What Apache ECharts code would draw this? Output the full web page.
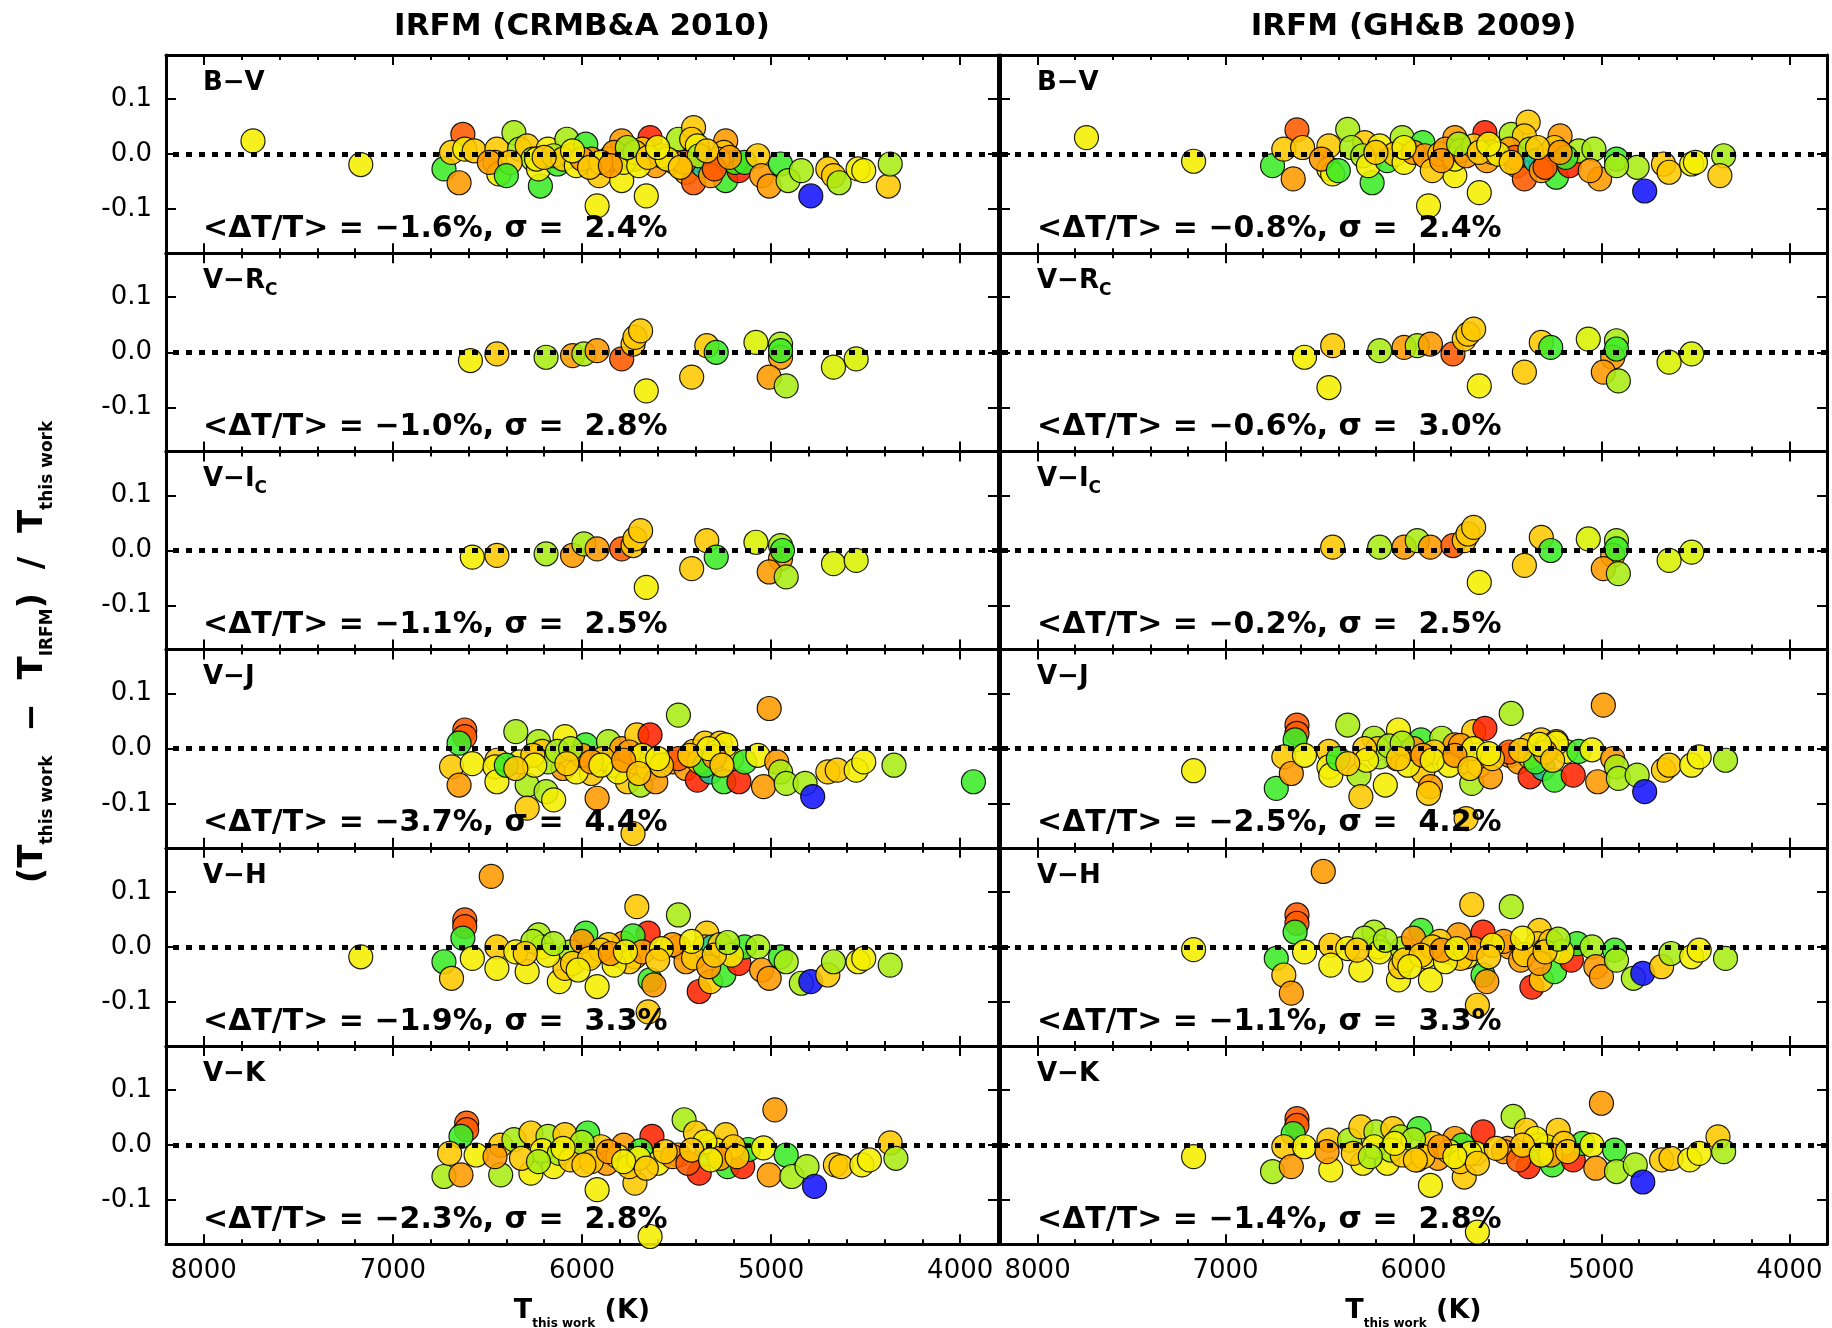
<!DOCTYPE html>
<html>
<head>
<meta charset="utf-8">
<script src="https://cdn.jsdelivr.net/npm/echarts@6/dist/echarts.min.js"></script>
<style>
html, body { margin: 0; padding: 0; background: #fff; }
#chart { width: 1832px; height: 1328px; }
</style>
</head>
<body>
<div id="chart"></div>
<script>
// each point: [T this work (K), (T this work - T IRFM) / T this work, colour class]
var bvCrmba = [[7740,0.024,'Y'],[7170,-0.019,'Y'],[6630,0.036,'R'],[6730,-0.027,'G'],[6650,-0.052,'O'],[6690,0.003,'A'],[6620,0.009,'Y'],[6570,0.006,'A'],[6450,0.009,'A'],[6460,-0.015,'Y'],[6440,-0.036,'Y'],[6490,-0.015,'O'],[6360,0.039,'L'],[6330,0.009,'L'],[6290,0.015,'A'],[6260,-0.009,'L'],[6220,-0.058,'G'],[6230,-0.027,'Y'],[6180,0.009,'Y'],[6130,-0.018,'G'],[6080,0.027,'L'],[6060,-0.003,'A'],[5980,0.018,'G'],[5950,-0.009,'O'],[5920,-0.094,'Y'],[5910,-0.039,'A'],[5860,-0.009,'A'],[5790,0.024,'O'],[5790,-0.048,'Y'],[5750,-0.003,'A'],[5720,-0.009,'O'],[5660,-0.076,'Y'],[5640,0.030,'D'],[5610,-0.021,'O'],[5680,0.009,'A'],[5490,0.027,'L'],[5410,0.048,'A'],[5420,0.027,'A'],[5390,0.015,'Y'],[5510,-0.015,'O'],[5450,-0.033,'A'],[5410,-0.052,'R'],[5360,-0.021,'C'],[5320,-0.015,'C'],[5240,0.024,'O'],[5250,0.003,'A'],[5240,-0.048,'G'],[5170,-0.030,'D'],[5190,-0.015,'G'],[5140,-0.015,'G'],[5070,-0.003,'A'],[5050,-0.039,'O'],[5010,-0.058,'O'],[4950,-0.018,'G'],[4910,-0.048,'L'],[4840,-0.030,'L'],[4790,-0.076,'B'],[4700,-0.027,'A'],[4670,-0.039,'A'],[4640,-0.052,'L'],[4540,-0.027,'Y'],[4510,-0.030,'Y'],[4380,-0.058,'A'],[4370,-0.018,'L'],[6380,-0.015,'A'],[6240,-0.009,'Y'],[6150,-0.003,'L'],[6100,-0.009,'A'],[6030,-0.021,'Y'],[6000,-0.009,'O'],[5830,0.003,'O'],[5780,-0.015,'Y'],[5720,0.003,'A'],[5580,-0.003,'O'],[5460,-0.015,'R'],[5380,-0.003,'L'],[5280,-0.009,'A'],[5320,-0.039,'O'],[6400,-0.039,'G'],[5900,-0.015,'Y'],[5960,-0.024,'A'],[5700,-0.021,'Y'],[5300,-0.027,'R'],[6200,-0.006,'A'],[6050,0.006,'Y'],[5850,-0.021,'O'],[5760,0.012,'L'],[5650,-0.006,'A'],[5550,-0.009,'Y'],[5340,0.006,'A'],[5220,-0.006,'O'],[5480,-0.024,'A'],[5600,0.012,'Y']];
var bvGhb = [[7740,0.030,'Y'],[7170,-0.013,'Y'],[6620,0.044,'R'],[6750,-0.021,'G'],[6640,-0.045,'O'],[6690,0.009,'A'],[6590,0.012,'A'],[6450,0.015,'A'],[6450,-0.027,'Y'],[6430,-0.036,'Y'],[6350,0.045,'L'],[6220,-0.052,'G'],[6260,0.021,'A'],[6180,0.015,'Y'],[6060,0.030,'L'],[5950,0.021,'G'],[5920,-0.094,'Y'],[5780,0.030,'O'],[5650,-0.070,'Y'],[5620,0.039,'D'],[5780,-0.039,'Y'],[5480,0.036,'L'],[5390,0.058,'A'],[5410,0.033,'A'],[5490,0.009,'O'],[5450,-0.021,'O'],[5410,-0.045,'R'],[5320,-0.018,'C'],[5220,0.033,'O'],[5240,-0.042,'G'],[5170,-0.021,'D'],[5120,0.006,'L'],[5040,0.009,'L'],[5010,-0.045,'O'],[4920,-0.009,'G'],[4810,-0.024,'L'],[4770,-0.067,'B'],[4920,-0.021,'L'],[4670,-0.018,'A'],[4640,-0.033,'A'],[4520,-0.018,'Y'],[4500,-0.015,'Y'],[4350,-0.003,'L'],[4370,-0.039,'A'],[6490,-0.009,'O'],[6330,0.012,'L'],[6270,-0.003,'L'],[6240,-0.021,'Y'],[6140,-0.012,'G'],[6100,0.000,'A'],[6050,-0.015,'Y'],[6000,0.003,'O'],[5940,-0.003,'O'],[5900,-0.030,'A'],[5860,0.000,'A'],[5830,0.009,'O'],[5780,-0.009,'Y'],[5750,0.006,'A'],[5720,-0.003,'O'],[5680,0.015,'A'],[5610,-0.012,'O'],[5580,0.003,'O'],[5460,-0.006,'R'],[5380,0.009,'L'],[5350,-0.012,'C'],[5280,0.000,'A'],[5250,0.012,'A'],[5190,-0.006,'G'],[5320,-0.030,'O'],[6400,-0.030,'G'],[5300,-0.024,'R'],[5060,-0.030,'O'],[6200,0.003,'A'],[6050,0.012,'Y'],[5850,-0.012,'O'],[5760,0.018,'L'],[5650,0.003,'A'],[5550,0.000,'Y'],[5340,0.012,'A'],[5220,0.003,'O'],[5480,-0.015,'A'],[5600,0.018,'Y']];
var vrCrmba = [[6590,-0.015,'Y'],[6450,-0.003,'A'],[6190,-0.009,'L'],[6050,-0.006,'O'],[5990,-0.003,'L'],[5920,0.003,'O'],[5790,-0.012,'R'],[5730,0.015,'A'],[5720,0.027,'A'],[5690,0.039,'A'],[5660,-0.070,'Y'],[5420,-0.045,'A'],[5340,0.012,'A'],[5290,0.000,'G'],[5080,0.018,'K'],[4950,0.015,'L'],[4950,-0.009,'O'],[5010,-0.045,'O'],[4920,-0.061,'L'],[4950,0.003,'G'],[4670,-0.027,'K'],[4550,-0.012,'K']];
var vrGhb = [[6580,-0.009,'Y'],[6430,0.012,'A'],[6450,-0.064,'Y'],[6180,0.003,'L'],[6050,0.009,'O'],[5980,0.012,'L'],[5910,0.015,'O'],[5790,-0.003,'R'],[5730,0.024,'A'],[5710,0.033,'A'],[5680,0.042,'A'],[5650,-0.061,'Y'],[5410,-0.036,'A'],[5320,0.018,'A'],[5270,0.009,'G'],[5070,0.024,'K'],[4920,0.021,'L'],[4940,-0.009,'O'],[4990,-0.036,'O'],[4910,-0.052,'L'],[4920,0.006,'G'],[4640,-0.018,'K'],[4520,-0.003,'K']];
var viCrmba = [[6580,-0.012,'Y'],[6450,-0.009,'A'],[6190,-0.006,'L'],[6050,-0.009,'O'],[5990,0.012,'L'],[5920,0.003,'O'],[5790,0.003,'R'],[5730,0.009,'A'],[5720,0.021,'A'],[5690,0.036,'A'],[5660,-0.067,'Y'],[5420,-0.033,'A'],[5340,0.018,'A'],[5290,-0.012,'G'],[5080,0.015,'K'],[4950,0.009,'L'],[4950,-0.015,'O'],[5010,-0.039,'O'],[4920,-0.048,'L'],[4940,0.000,'G'],[4670,-0.024,'K'],[4550,-0.018,'K']];
var viGhb = [[6430,0.006,'A'],[6180,0.006,'L'],[6050,0.006,'O'],[5980,0.018,'L'],[5910,0.006,'O'],[5790,0.009,'R'],[5730,0.018,'A'],[5710,0.030,'A'],[5680,0.042,'A'],[5650,-0.058,'Y'],[5410,-0.027,'A'],[5320,0.024,'A'],[5270,0.000,'G'],[5070,0.021,'K'],[4920,0.018,'L'],[4940,-0.009,'O'],[4990,-0.033,'O'],[4910,-0.042,'L'],[4920,0.003,'G'],[4640,-0.018,'K'],[4520,-0.003,'K']];
var vjCrmba = [[6620,0.034,'R'],[6620,0.022,'R'],[6650,0.010,'G'],[6690,-0.033,'A'],[6650,-0.066,'O'],[6580,-0.027,'Y'],[6450,-0.021,'A'],[6460,-0.033,'Y'],[6450,-0.060,'Y'],[6350,0.031,'L'],[6330,-0.024,'Y'],[6290,-0.066,'L'],[6290,-0.108,'A'],[6230,0.013,'L'],[6210,-0.005,'A'],[6190,-0.078,'L'],[6150,-0.093,'Y'],[6090,0.022,'Y'],[6100,-0.036,'O'],[6050,-0.018,'Y'],[5980,0.007,'G'],[5950,-0.045,'A'],[5920,-0.090,'O'],[5860,0.013,'L'],[5830,-0.030,'Y'],[5790,0.000,'O'],[5760,-0.060,'A'],[5730,-0.154,'A'],[5710,0.025,'A'],[5640,0.025,'D'],[5720,-0.024,'A'],[5690,-0.066,'L'],[5650,-0.036,'Y'],[5610,-0.060,'O'],[5490,0.061,'L'],[5520,-0.024,'O'],[5450,-0.036,'O'],[5390,-0.057,'D'],[5410,-0.005,'A'],[5350,0.010,'A'],[5320,-0.042,'C'],[5270,0.010,'A'],[5250,-0.060,'G'],[5210,-0.018,'Y'],[5170,-0.060,'D'],[5140,-0.024,'G'],[5070,-0.012,'Y'],[5010,0.073,'O'],[4970,-0.024,'O'],[4950,-0.042,'L'],[5040,-0.069,'O'],[4920,-0.063,'L'],[4820,-0.063,'L'],[4780,-0.087,'B'],[4700,-0.042,'A'],[4650,-0.039,'A'],[4550,-0.039,'Y'],[4510,-0.024,'Y'],[4350,-0.030,'L'],[3930,-0.060,'G'],[6180,-0.024,'L'],[6130,-0.005,'L'],[6030,-0.042,'Y'],[6000,-0.012,'O'],[5890,-0.018,'A'],[5810,-0.042,'Y'],[5750,-0.006,'O'],[5490,-0.018,'R'],[5380,-0.024,'A'],[5290,-0.006,'A'],[5240,0.007,'Y'],[6400,-0.030,'G'],[5350,-0.030,'G'],[6260,-0.012,'A'],[6060,0.000,'L'],[5950,-0.024,'O'],[5680,-0.012,'Y'],[5580,-0.030,'A'],[5300,-0.015,'O'],[6250,-0.030,'Y'],[6080,-0.027,'A'],[5900,-0.030,'Y'],[5780,-0.021,'O'],[5700,-0.045,'A'],[5600,-0.018,'Y'],[5430,-0.012,'A'],[5330,0.000,'Y'],[5260,-0.030,'A'],[6350,-0.036,'A']];
var vjGhb = [[7170,-0.040,'Y'],[6620,0.043,'R'],[6620,0.028,'R'],[6630,0.016,'G'],[6690,-0.015,'A'],[6730,-0.072,'G'],[6650,-0.045,'O'],[6580,-0.012,'Y'],[6450,-0.005,'A'],[6450,-0.033,'Y'],[6440,-0.048,'Y'],[6350,0.043,'L'],[6290,-0.048,'L'],[6280,-0.087,'A'],[6210,0.019,'L'],[6190,0.000,'A'],[6150,-0.066,'Y'],[6080,0.034,'Y'],[6090,-0.018,'O'],[5960,0.016,'G'],[5950,-0.042,'A'],[5910,-0.069,'O'],[5920,-0.081,'A'],[5850,0.019,'L'],[5780,0.007,'O'],[5680,0.031,'A'],[5620,0.037,'D'],[5720,-0.024,'A'],[5690,-0.063,'L'],[5650,-0.030,'Y'],[5590,-0.051,'O'],[5720,-0.127,'A'],[5480,0.064,'L'],[5490,-0.012,'O'],[5440,-0.024,'O'],[5380,-0.051,'D'],[5380,0.007,'A'],[5320,0.016,'A'],[5310,-0.036,'C'],[5240,0.013,'A'],[5250,-0.057,'G'],[5190,-0.005,'Y'],[5150,-0.048,'D'],[5120,-0.005,'G'],[5050,-0.002,'Y'],[4990,0.079,'O'],[4940,-0.018,'O'],[4920,-0.033,'L'],[5020,-0.060,'O'],[4910,-0.054,'L'],[4810,-0.048,'L'],[4770,-0.078,'B'],[4670,-0.039,'A'],[4640,-0.030,'A'],[4520,-0.030,'Y'],[4480,-0.015,'Y'],[4340,-0.021,'L'],[6180,-0.015,'L'],[6130,0.005,'L'],[6030,-0.030,'Y'],[6000,0.000,'O'],[5890,-0.006,'A'],[5810,-0.030,'Y'],[5750,0.006,'O'],[5490,-0.006,'R'],[5380,-0.015,'A'],[5290,0.004,'A'],[5240,0.010,'Y'],[6400,-0.018,'G'],[5350,-0.024,'G'],[6260,0.000,'A'],[6060,0.010,'L'],[5950,-0.012,'O'],[5680,0.000,'Y'],[5580,-0.018,'A'],[5300,-0.006,'O'],[6250,-0.021,'Y'],[6080,-0.018,'A'],[5900,-0.021,'Y'],[5780,-0.012,'O'],[5700,-0.036,'A'],[5600,-0.009,'Y'],[5430,-0.003,'A'],[5330,0.008,'Y'],[5260,-0.021,'A'],[6350,-0.027,'A']];
var vhCrmba = [[6480,0.128,'O'],[7170,-0.018,'Y'],[6620,0.049,'R'],[6620,0.037,'R'],[6630,0.016,'G'],[6730,-0.027,'G'],[6690,-0.057,'A'],[6580,-0.021,'Y'],[6450,0.000,'A'],[6450,-0.039,'Y'],[6290,-0.045,'Y'],[6230,0.022,'L'],[6210,0.000,'Y'],[6120,-0.063,'Y'],[6090,-0.039,'A'],[5980,0.025,'G'],[5950,-0.015,'Y'],[5920,-0.072,'Y'],[5780,0.007,'O'],[5710,0.073,'A'],[5650,0.025,'D'],[5730,0.020,'G'],[5720,-0.018,'Y'],[5640,-0.060,'G'],[5620,-0.069,'O'],[5650,-0.118,'A'],[5490,0.058,'L'],[5490,0.000,'O'],[5450,-0.027,'O'],[5380,-0.081,'D'],[5340,0.025,'A'],[5350,0.000,'A'],[5310,0.000,'C'],[5320,-0.063,'A'],[5250,-0.051,'G'],[5170,-0.030,'D'],[5140,0.000,'G'],[5070,0.000,'L'],[5050,-0.042,'O'],[5010,-0.057,'O'],[4950,-0.018,'G'],[4920,-0.027,'L'],[4840,-0.066,'L'],[4790,-0.063,'B'],[4700,-0.051,'A'],[4670,-0.027,'L'],[4540,-0.027,'Y'],[4510,-0.021,'Y'],[4370,-0.033,'L'],[6350,-0.009,'Y'],[6260,0.010,'L'],[6180,-0.015,'Y'],[6060,-0.009,'L'],[6000,0.010,'O'],[5860,0.004,'A'],[5810,-0.015,'Y'],[5750,-0.027,'A'],[5830,-0.033,'Y'],[5410,-0.020,'A'],[5270,0.004,'A'],[5210,-0.015,'Y'],[5520,0.004,'O'],[6050,-0.030,'A'],[5900,-0.006,'A'],[5680,-0.009,'O'],[5580,-0.003,'Y'],[5330,-0.036,'O'],[6300,-0.012,'A'],[6150,0.006,'L'],[5960,-0.021,'A'],[5850,-0.012,'O'],[5770,-0.009,'Y'],[5600,-0.024,'A'],[5420,0.010,'Y'],[5300,-0.015,'A'],[5230,0.008,'L'],[6020,-0.042,'Y']];
var vhGhb = [[6480,0.137,'O'],[7170,-0.005,'Y'],[6620,0.058,'R'],[6620,0.043,'R'],[6630,0.027,'G'],[6730,-0.021,'G'],[6690,-0.051,'A'],[6650,-0.084,'O'],[6580,-0.009,'Y'],[6440,0.003,'A'],[6440,-0.033,'Y'],[6280,-0.042,'Y'],[6210,0.027,'L'],[6190,0.000,'Y'],[6080,-0.060,'Y'],[6070,-0.036,'A'],[5960,0.030,'G'],[5940,-0.018,'Y'],[5910,-0.060,'Y'],[5760,0.022,'O'],[5690,0.077,'A'],[5630,0.027,'D'],[5720,-0.018,'Y'],[5630,-0.051,'G'],[5610,-0.063,'O'],[5660,-0.106,'A'],[5480,0.073,'L'],[5490,0.000,'O'],[5430,-0.024,'O'],[5370,-0.073,'D'],[5330,0.030,'A'],[5340,0.006,'A'],[5300,-0.006,'C'],[5320,-0.060,'A'],[5250,-0.045,'G'],[5160,-0.024,'D'],[5130,0.006,'G'],[5050,0.000,'L'],[5030,-0.036,'O'],[5000,-0.054,'O'],[4930,-0.006,'G'],[4920,-0.024,'L'],[4830,-0.057,'L'],[4780,-0.048,'B'],[4680,-0.036,'A'],[4630,-0.012,'L'],[4520,-0.018,'Y'],[4480,-0.006,'Y'],[4340,-0.021,'L'],[6350,-0.003,'Y'],[6260,0.016,'L'],[6180,-0.009,'Y'],[6060,-0.003,'L'],[6000,0.016,'O'],[5860,0.010,'A'],[5810,-0.009,'Y'],[5750,-0.021,'A'],[5830,-0.027,'Y'],[5410,-0.014,'A'],[5270,0.010,'A'],[5210,-0.009,'Y'],[5520,0.010,'O'],[6050,-0.024,'A'],[5900,0.000,'A'],[5680,-0.003,'O'],[5580,0.003,'Y'],[5330,-0.030,'O'],[6300,-0.006,'A'],[6150,0.012,'L'],[5960,-0.015,'A'],[5850,-0.006,'O'],[5770,-0.003,'Y'],[5600,-0.018,'A'],[5420,0.016,'Y'],[5300,-0.009,'A'],[5230,0.014,'L'],[6020,-0.036,'Y']];
var vkCrmba = [[6610,0.040,'R'],[6610,0.028,'R'],[6640,0.016,'G'],[6730,-0.057,'L'],[6700,-0.015,'A'],[6640,-0.054,'O'],[6560,-0.018,'Y'],[6430,0.000,'A'],[6430,-0.054,'L'],[6360,0.010,'L'],[6270,0.022,'A'],[6270,-0.051,'Y'],[6180,0.016,'L'],[6150,-0.039,'Y'],[6090,0.019,'A'],[5970,0.022,'G'],[6000,-0.015,'O'],[5920,-0.081,'Y'],[5840,-0.015,'Y'],[5780,0.000,'O'],[5720,-0.069,'A'],[5640,-0.166,'Y'],[5630,0.016,'D'],[5690,-0.010,'G'],[5600,-0.033,'Y'],[5460,0.046,'L'],[5490,-0.018,'O'],[5400,0.022,'A'],[5380,-0.051,'D'],[5320,0.000,'A'],[5340,-0.015,'C'],[5240,0.019,'A'],[5230,-0.039,'G'],[5150,-0.039,'D'],[5120,-0.008,'G'],[5040,-0.005,'Y'],[4980,0.064,'O'],[5010,-0.054,'O'],[4920,-0.018,'G'],[4890,-0.057,'L'],[4810,-0.039,'L'],[4770,-0.075,'B'],[4660,-0.036,'A'],[4630,-0.039,'A'],[4520,-0.036,'Y'],[4480,-0.027,'Y'],[4370,0.004,'A'],[4340,-0.024,'L'],[6460,-0.021,'O'],[6210,-0.010,'Y'],[6120,-0.015,'L'],[6060,-0.027,'A'],[5900,-0.003,'A'],[5870,-0.033,'O'],[5810,-0.021,'Y'],[5750,-0.039,'A'],[5520,-0.021,'O'],[5440,-0.033,'R'],[5290,-0.009,'Y'],[5200,-0.003,'A'],[6000,0.005,'L'],[5950,-0.030,'A'],[5700,-0.024,'Y'],[5560,-0.012,'A'],[5350,0.006,'Y'],[5270,-0.024,'O'],[6320,-0.024,'A'],[6230,-0.030,'L'],[6100,-0.006,'Y'],[5990,-0.036,'A'],[5860,-0.012,'O'],[5780,-0.030,'Y'],[5660,-0.042,'A'],[5420,-0.009,'A'],[5320,-0.027,'Y'],[5180,-0.021,'A']];
var vkGhb = [[7170,-0.021,'Y'],[6620,0.048,'R'],[6620,0.036,'R'],[6640,0.021,'G'],[6750,-0.048,'L'],[6690,-0.003,'A'],[6650,-0.039,'O'],[6580,-0.003,'Y'],[6450,0.009,'A'],[6440,-0.045,'Y'],[6340,0.009,'L'],[6270,-0.033,'Y'],[6280,0.033,'A'],[6200,0.024,'L'],[6110,0.030,'A'],[6140,-0.033,'Y'],[6070,0.015,'L'],[5970,0.030,'G'],[5980,-0.027,'O'],[5910,-0.073,'Y'],[5780,0.012,'O'],[5730,-0.058,'A'],[5660,-0.158,'Y'],[5630,0.024,'D'],[5740,0.000,'G'],[5670,-0.015,'Y'],[5470,0.052,'L'],[5500,-0.006,'O'],[5400,0.027,'A'],[5390,-0.039,'D'],[5330,0.000,'A'],[5320,-0.009,'C'],[5230,0.027,'A'],[5260,-0.036,'G'],[5150,-0.027,'D'],[5100,0.003,'G'],[5050,0.000,'Y'],[5000,0.076,'O'],[5030,-0.042,'O'],[4930,-0.009,'G'],[4920,-0.048,'L'],[4820,-0.036,'L'],[4780,-0.067,'B'],[4680,-0.027,'A'],[4630,-0.024,'A'],[4530,-0.027,'Y'],[4480,-0.015,'Y'],[4380,0.015,'A'],[4350,-0.012,'L'],[6460,-0.012,'O'],[6210,-0.003,'Y'],[6120,-0.009,'L'],[6060,-0.018,'A'],[5900,0.003,'A'],[5870,-0.024,'O'],[5810,-0.012,'Y'],[5750,-0.030,'A'],[5520,-0.012,'O'],[5440,-0.027,'R'],[5290,-0.003,'Y'],[5200,0.003,'A'],[6000,0.010,'L'],[5950,-0.021,'A'],[5700,-0.015,'Y'],[5560,-0.006,'A'],[5350,0.012,'Y'],[5270,-0.018,'O'],[6320,-0.015,'A'],[6230,-0.021,'L'],[6100,0.003,'Y'],[5990,-0.027,'A'],[5860,-0.003,'O'],[5780,-0.021,'Y'],[5660,-0.033,'A'],[5420,0.000,'A'],[5320,-0.018,'Y'],[5180,-0.012,'A']];

var columnTitles = ['IRFM (CRMB&A 2010)', 'IRFM (GH&B 2009)'];
var bandLabels = ['B\u2212V', 'V\u2212R{sub|C}', 'V\u2212I{sub|C}', 'V\u2212J', 'V\u2212H', 'V\u2212K'];
var meanOffsets = [[-1.6, -0.8], [-1.0, -0.6], [-1.1, -0.2], [-3.7, -2.5], [-1.9, -1.1], [-2.3, -1.4]];
var sigmas = [[2.4, 2.4], [2.8, 3.0], [2.5, 2.5], [4.4, 4.2], [3.3, 3.3], [2.8, 2.8]];
var xMajorTicks = [4000, 5000, 6000, 7000, 8000];
var xMinorTicks = [3800, 4000, 4200, 4400, 4600, 4800, 5000, 5200, 5400, 5600, 5800, 6000, 6200, 6400, 6600, 6800, 7000, 7200, 7400, 7600, 7800, 8000, 8200];
var yTicks = [-0.1, 0, 0.1];

var panels = [
    [bvCrmba, bvGhb],
    [vrCrmba, vrGhb],
    [viCrmba, viGhb],
    [vjCrmba, vjGhb],
    [vhCrmba, vhGhb],
    [vkCrmba, vkGhb]
];

var palette = {
    B: '#1414ff', C: '#1fc8a0', G: '#3cec28', L: '#a8ec14', K: '#d9f000',
    Y: '#f5ee00', A: '#ffc800', O: '#ff9a00', R: '#ff5a00', D: '#ff2400'
};

var FONT = 'DejaVu Sans';
var colLeft = [166, 1000];
var colWidth = [832, 827];
var rowTop = 55;
var rowHeight = 198.2;

var grids = [], xAxes = [], yAxes = [], series = [], graphic = [];

function fmtPct(v) {
    return (v < 0 ? '\u2212' : '') + Math.abs(v).toFixed(1);
}

function frameLine() {
    return { show: true, onZero: false, lineStyle: { color: '#000', width: 3 } };
}

for (var r = 0; r < 6; r++) {
    for (var c = 0; c < 2; c++) {
        var gi = r * 2 + c;
        var gl = colLeft[c], gt = rowTop + r * rowHeight;
        grids.push({ left: gl, top: gt, width: colWidth[c], height: rowHeight });

        ['bottom', 'top'].forEach(function (pos) {
            xAxes.push({
                gridIndex: gi, type: 'value', position: pos, min: 3800, max: 8200, inverse: true,
                axisLine: frameLine(),
                splitLine: { show: false },
                axisTick: { show: true, inside: true, length: 10, lineStyle: { color: '#000', width: 2 }, customValues: xMajorTicks },
                axisLabel: {
                    show: pos === 'bottom' && r === 5, customValues: xMajorTicks,
                    fontFamily: FONT, fontSize: 26, color: '#000', margin: 14,
                    formatter: function (v) { return String(v); }
                }
            });
            xAxes.push({
                gridIndex: gi, type: 'value', position: pos, min: 3800, max: 8200, inverse: true,
                axisLine: { show: false, onZero: false },
                splitLine: { show: false },
                axisTick: { show: true, inside: true, length: 5, lineStyle: { color: '#000', width: 2 }, customValues: xMinorTicks },
                axisLabel: { show: false }
            });
        });

        ['left', 'right'].forEach(function (pos) {
            yAxes.push({
                gridIndex: gi, type: 'value', position: pos, min: -0.18, max: 0.18,
                axisLine: frameLine(),
                splitLine: { show: false },
                axisTick: { show: true, inside: true, length: 10, lineStyle: { color: '#000', width: 2 }, customValues: yTicks },
                axisLabel: {
                    show: pos === 'left' && c === 0, customValues: yTicks,
                    fontFamily: FONT, fontSize: 26, color: '#000', margin: 14,
                    formatter: function (v) { return v.toFixed(1); }
                }
            });
        });

        series.push({
            type: 'scatter',
            xAxisIndex: gi * 4,
            yAxisIndex: gi * 2,
            data: panels[r][c],
            symbol: 'circle',
            symbolSize: 24,
            itemStyle: {
                color: function (p) { return palette[p.data[2]]; },
                borderColor: '#000',
                borderWidth: 1.2,
                opacity: 0.88
            },
            emphasis: { disabled: true },
            markLine: {
                silent: true,
                symbol: 'none',
                label: { show: false },
                lineStyle: { color: '#000', width: 5, type: [6, 7] },
                data: [{ yAxis: 0 }]
            }
        });

        graphic.push({
            type: 'text', x: gl + 37, y: gt + 28, z: 100,
            style: {
                text: bandLabels[r], fontFamily: FONT, fontSize: 26, fontWeight: 'bold', fill: '#000',
                verticalAlign: 'middle', lineHeight: 36,
                rich: { sub: { fontFamily: FONT, fontSize: 17, fontWeight: 'bold', fill: '#000', verticalAlign: 'bottom', lineHeight: 17 } }
            }
        });
        graphic.push({
            type: 'text', x: gl + 37, y: gt + 174, z: 100,
            style: {
                text: '<\u0394T/T> = ' + fmtPct(meanOffsets[r][c]) + '%, \u03c3 =  ' + sigmas[r][c].toFixed(1) + '%',
                fontFamily: FONT, fontSize: 30, fontWeight: 'bold', fill: '#000', verticalAlign: 'middle'
            }
        });
    }
}

for (var k = 0; k < 2; k++) {
    var cx = colLeft[k] + colWidth[k] / 2;
    graphic.push({
        type: 'text', x: cx, y: 27, z: 100,
        style: { text: columnTitles[k], fontFamily: FONT, fontSize: 31, fontWeight: 'bold', fill: '#000', textAlign: 'center', verticalAlign: 'middle' }
    });
    graphic.push({
        type: 'text', x: cx, y: 1311, z: 100,
        style: {
            text: 'T{sub|this work} (K)', fontFamily: FONT, fontSize: 27, fontWeight: 'bold', fill: '#000',
            textAlign: 'center', verticalAlign: 'middle', lineHeight: 38,
            rich: { sub: { fontFamily: FONT, fontSize: 12, fontWeight: 'bold', fill: '#000', verticalAlign: 'bottom', lineHeight: 12 } }
        }
    });
}

graphic.push({
    type: 'text', x: 33, y: 652, rotation: Math.PI / 2, z: 100,
    style: {
        text: '(T{sub|this work}  \u2212  T{sub|IRFM})  /  T{sub|this work}',
        fontFamily: FONT, fontSize: 34, fontWeight: 'bold', fill: '#000',
        textAlign: 'center', verticalAlign: 'middle', lineHeight: 46,
        rich: { sub: { fontFamily: FONT, fontSize: 17, fontWeight: 'bold', fill: '#000', verticalAlign: 'bottom', lineHeight: 17 } }
    }
});

var myChart = echarts.init(document.getElementById('chart'));
var option = {
    backgroundColor: '#fff',
    animation: false,
    grid: grids,
    xAxis: xAxes,
    yAxis: yAxes,
    series: series,
    graphic: graphic
};
myChart.setOption(option, true);
</script>
</body>
</html>
